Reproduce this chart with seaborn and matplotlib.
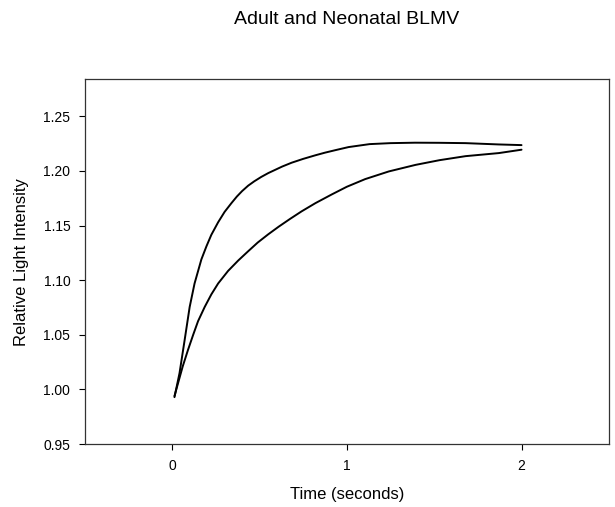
import matplotlib
matplotlib.use("Agg")
import matplotlib.pyplot as plt
import seaborn as sns
import pandas as pd

# Data
fast_t = [0.013, 0.042, 0.071, 0.100, 0.128, 0.167, 0.196, 0.224, 0.263, 0.30, 0.339, 0.37,
          0.40, 0.435, 0.47, 0.51, 0.55, 0.59, 0.63, 0.684, 0.75, 0.82, 0.875, 0.94, 1.01,
          1.13, 1.25, 1.39, 1.53, 1.68, 1.87, 2.00]
fast_y = [0.993, 1.015, 1.045, 1.0755, 1.097, 1.119, 1.131, 1.1415, 1.153, 1.1625, 1.1705, 1.1765,
          1.1815, 1.1865, 1.1905, 1.1945, 1.198, 1.201, 1.204, 1.2075, 1.211, 1.2143, 1.2167, 1.2192,
          1.2218, 1.2245, 1.2254, 1.2258, 1.2257, 1.2254, 1.2242, 1.2236]
slow_t = [0.013, 0.033, 0.06, 0.09, 0.12, 0.148, 0.186, 0.224, 0.263, 0.32, 0.378, 0.435,
          0.49, 0.55, 0.61, 0.674, 0.741, 0.82, 0.914, 1.00, 1.105, 1.24, 1.393, 1.53,
          1.68, 1.87, 2.00]
slow_y = [0.994, 1.0055, 1.021, 1.036, 1.050, 1.0625, 1.0755, 1.087, 1.097, 1.1085, 1.118, 1.1265,
          1.1345, 1.142, 1.149, 1.156, 1.163, 1.1705, 1.1785, 1.1855, 1.1925, 1.1995, 1.2055, 1.2098,
          1.2135, 1.2163, 1.2194]
x_ticks = [0, 1, 2]
y_ticks = [0.95, 1.00, 1.05, 1.10, 1.15, 1.20, 1.25]

df = pd.concat([
    pd.DataFrame({"t": fast_t, "y": fast_y, "series": "Adult"}),
    pd.DataFrame({"t": slow_t, "y": slow_y, "series": "Neonatal"}),
])

sns.set_theme(style="ticks")
plt.rcParams["font.family"] = ["Liberation Sans", "DejaVu Sans"]
plt.rcParams["text.color"] = "black"
plt.rcParams["axes.labelcolor"] = "black"

fig = plt.figure(figsize=(6.15, 5.07), dpi=100)
ax = fig.add_axes([0.138, 0.124, 0.852, 0.720])
sns.lineplot(data=df, x="t", y="y", hue="series", palette=["black", "black"],
             linewidth=1.4, legend=False, ax=ax, sort=False)

ax.set_xlim(-0.5, 2.5)
ax.set_ylim(0.95, 1.284)
ax.set_xticks(x_ticks)
ax.set_xticklabels([str(v) for v in x_ticks])
ax.set_yticks(y_ticks)
ax.set_yticklabels([f"{v:.2f}" for v in y_ticks])
ax.tick_params(axis="both", direction="out", length=4.5, width=0.8, labelsize=10,
               colors="black", pad=6)
for s in ax.spines.values():
    s.set_color("#333333")
    s.set_linewidth(0.9)
ax.set_xlabel("Time (seconds)", fontsize=12, labelpad=10, color="black")
ax.set_ylabel("Relative Light Intensity", fontsize=12, labelpad=10, color="black")
fig.suptitle("Adult and Neonatal BLMV", x=0.564, y=0.978, fontsize=14, color="black")

fig.savefig("out.png", dpi=100)
